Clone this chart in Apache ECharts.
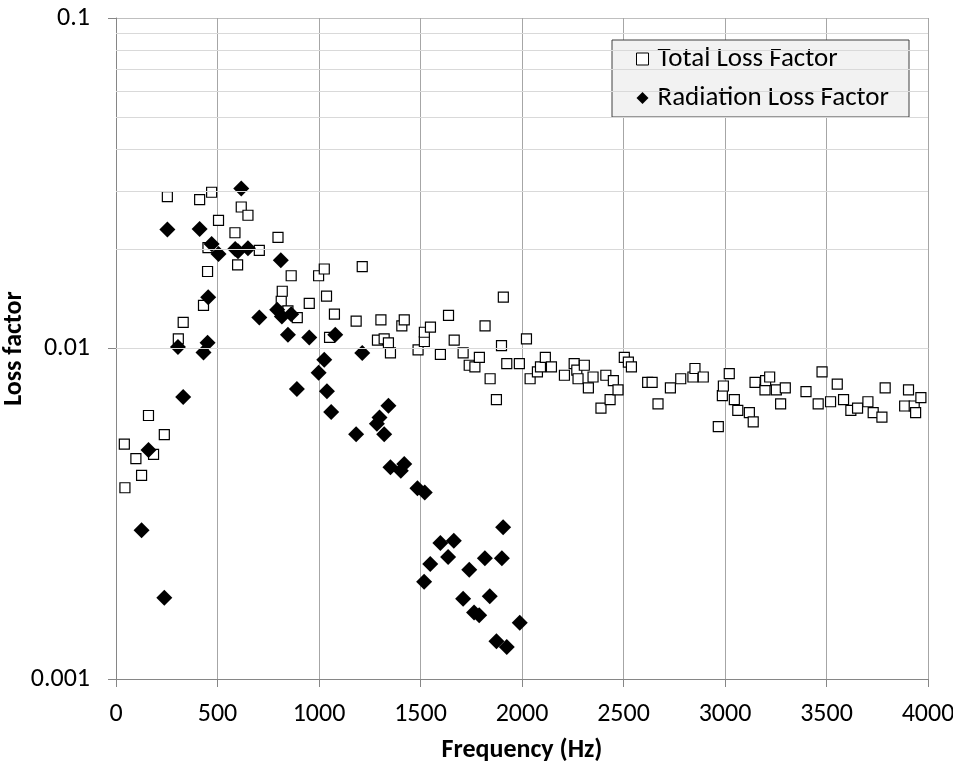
<!DOCTYPE html>
<html>
<head>
<meta charset="utf-8">
<script src="https://cdn.jsdelivr.net/npm/echarts@6/dist/echarts.min.js"></script>
<style>
  html, body { margin: 0; padding: 0; background: #fff; }
  #chart { width: 953px; height: 765px; }
</style>
</head>
<body>
<div id="chart"></div>
<script>
// Total loss factor (open squares)
const totalFreq = [41, 44, 98, 126, 160, 185, 238, 253, 307, 331, 412, 431, 451, 453, 471, 505, 586, 599, 617, 650,
    706, 798, 814, 819, 847, 863, 893, 952, 998, 1026, 1037, 1052, 1076, 1183, 1213, 1288, 1305, 1321, 1342, 1352,
    1408, 1420, 1488, 1519, 1519, 1549, 1598, 1638, 1666, 1710, 1740, 1768, 1790, 1818, 1843, 1874, 1899, 1908, 1925, 1987,
    2022, 2040, 2076, 2091, 2115, 2145, 2209, 2257, 2270, 2276, 2307, 2327, 2350, 2389, 2413, 2434, 2450, 2473, 2504, 2524,
    2539, 2619, 2641, 2670, 2731, 2782, 2842, 2852, 2893, 2967, 2987, 2992, 3021, 3046, 3063, 3120, 3139, 3148, 3197, 3200,
    3220, 3253, 3274, 3297, 3399, 3459, 3478, 3520, 3553, 3584, 3620, 3653, 3704, 3730, 3773, 3789, 3885, 3904, 3932, 3939,
    3965];
const totalLoss = [0.00514, 0.00379, 0.00464, 0.00413, 0.00627, 0.00478, 0.00549, 0.0288, 0.0107, 0.0120, 0.0282, 0.0135, 0.0171, 0.0202, 0.0297, 0.0244, 0.0224, 0.0179, 0.0268, 0.0253,
    0.0198, 0.0217, 0.0139, 0.0149, 0.0130, 0.0166, 0.0124, 0.0137, 0.0166, 0.0174, 0.0144, 0.0108, 0.0127, 0.0121, 0.0177, 0.0106, 0.0122, 0.0107, 0.0104, 0.0097,
    0.0117, 0.0122, 0.0099, 0.0105, 0.0112, 0.0116, 0.0096, 0.0126, 0.0106, 0.0097, 0.0089, 0.0088, 0.0094, 0.0117, 0.0081, 0.0070, 0.0102, 0.0143, 0.0090, 0.0090,
    0.0107, 0.0081, 0.0085, 0.0088, 0.0094, 0.0088, 0.0083, 0.0090, 0.0086, 0.0081, 0.0089, 0.0076, 0.0082, 0.0066, 0.0083, 0.0070, 0.0080, 0.0075, 0.0094, 0.0091,
    0.0088, 0.0079, 0.0079, 0.0068, 0.0076, 0.0081, 0.0082, 0.0087, 0.0082, 0.0058, 0.0072, 0.0077, 0.0084, 0.0070, 0.0065, 0.0064, 0.0060, 0.0079, 0.0075, 0.0080,
    0.0082, 0.0075, 0.0068, 0.0076, 0.0074, 0.0068, 0.0085, 0.0069, 0.0078, 0.0070, 0.0065, 0.0066, 0.0069, 0.0064, 0.0062, 0.0076, 0.0067, 0.0075, 0.0067, 0.0064,
    0.0071];

// Radiation loss factor (filled diamonds)
const radFreq = [126, 160, 238, 253, 305, 331, 412, 431, 451, 454, 471, 505, 587, 601, 617, 650, 706, 794, 812, 817,
    847, 863, 891, 952, 998, 1026, 1039, 1060, 1080, 1183, 1213, 1285, 1298, 1321, 1342, 1352, 1403, 1420, 1485, 1518,
    1521, 1548, 1598, 1636, 1664, 1710, 1740, 1764, 1789, 1817, 1841, 1874, 1901, 1907, 1925, 1989];
const radLoss = [0.00282, 0.00493, 0.00176, 0.0229, 0.0101, 0.00713, 0.0230, 0.00972, 0.0104, 0.0143, 0.0207, 0.0193, 0.0200, 0.0197, 0.0305, 0.0201, 0.0124, 0.0131, 0.0185, 0.0125,
    0.0110, 0.0127, 0.00754, 0.0108, 0.00845, 0.00924, 0.00743, 0.00642, 0.0110, 0.00550, 0.00969, 0.00592, 0.00618, 0.00550, 0.00671, 0.00437, 0.00427, 0.00447, 0.00378, 0.00197,
    0.00367, 0.00223, 0.00258, 0.00234, 0.00262, 0.00175, 0.00214, 0.00159, 0.00156, 0.00232, 0.00178, 0.00130, 0.00232, 0.00288, 0.00125, 0.00148];

// minor horizontal gridlines of the log axis
const minorLines = [0.002, 0.003, 0.004, 0.005, 0.006, 0.007, 0.008, 0.009,
    0.02, 0.03, 0.04, 0.05, 0.06, 0.07, 0.08, 0.09];

const font = 'Carlito, Lato, sans-serif';
const zip = (xs, ys) => xs.map((x, i) => [x, ys[i]]);

const chart = echarts.init(document.getElementById('chart'), null, { renderer: 'canvas' });

chart.setOption({
    animation: false,
    backgroundColor: '#fff',
    textStyle: { fontFamily: font, color: '#000' },
    grid: { left: 116, right: 25, top: 18, bottom: 86, outerBoundsMode: 'none', containLabel: false },
    legend: {
        orient: 'vertical',
        left: 612,
        top: 40,
        padding: [4, 20, 4, 24],
        itemGap: 9,
        itemWidth: 12,
        itemHeight: 12,
        backgroundColor: '#f2f2f2',
        borderColor: '#404040',
        borderWidth: 1,
        textStyle: { fontFamily: font, fontSize: 27, color: '#000', lineHeight: 30, padding: [0, 0, 0, 4] },
        data: [
            { name: 'Total Loss Factor', icon: 'rect', itemStyle: { color: '#fff', borderColor: '#000', borderWidth: 1 } },
            { name: 'Radiation Loss Factor', icon: 'diamond', itemStyle: { color: '#000' } },
        ],
    },
    xAxis: {
        type: 'value',
        min: 0,
        max: 4000,
        interval: 500,
        name: 'Frequency (Hz)',
        nameLocation: 'middle',
        nameGap: 58,
        nameMoveOverlap: false,
        nameTextStyle: { fontFamily: font, fontSize: 26, fontWeight: 'bold', color: '#000' },
        axisLine: { show: true, lineStyle: { color: '#868686', width: 1 } },
        axisTick: { show: true, length: 8, inside: false, lineStyle: { color: '#868686' } },
        axisLabel: { fontFamily: font, fontSize: 26, color: '#000', margin: 22, formatter: (v) => String(v) },
        splitLine: { show: true, lineStyle: { color: '#a6a6a6', width: 1 } },
    },
    yAxis: {
        type: 'log',
        logBase: 10,
        min: 0.001,
        max: 0.1,
        name: 'Loss factor',
        nameLocation: 'middle',
        nameGap: 89,
        nameMoveOverlap: false,
        nameTextStyle: { fontFamily: font, fontSize: 26, fontWeight: 'bold', color: '#000' },
        axisLine: { show: true, lineStyle: { color: '#868686', width: 1 } },
        axisTick: { show: true, length: 8, inside: false, lineStyle: { color: '#868686' } },
        axisLabel: {
            fontFamily: font, fontSize: 26, color: '#000', margin: 26,
            formatter: (v) => String(Number(Number(v).toPrecision(3))),
        },
        splitLine: { show: true, lineStyle: { color: '#bfbfbf', width: 1 } },
    },
    series: [
        {
            type: 'scatter',
            z: 1,
            silent: true,
            data: [],
            markLine: {
                silent: true,
                symbol: ['none', 'none'],
                label: { show: false },
                lineStyle: { color: '#d9d9d9', width: 1, type: 'solid' },
                data: minorLines.map((v) => ({ yAxis: v })),
            },
        },
        {
            name: 'Total Loss Factor',
            type: 'scatter',
            z: 3,
            symbol: 'rect',
            symbolSize: 10,
            itemStyle: { color: '#fff', borderColor: '#000', borderWidth: 1.2, opacity: 1 },
            data: zip(totalFreq, totalLoss),
        },
        {
            name: 'Radiation Loss Factor',
            type: 'scatter',
            z: 4,
            symbol: 'diamond',
            symbolSize: 16,
            itemStyle: { color: '#000', opacity: 1 },
            data: zip(radFreq, radLoss),
        },
    ],
});
</script>
</body>
</html>
